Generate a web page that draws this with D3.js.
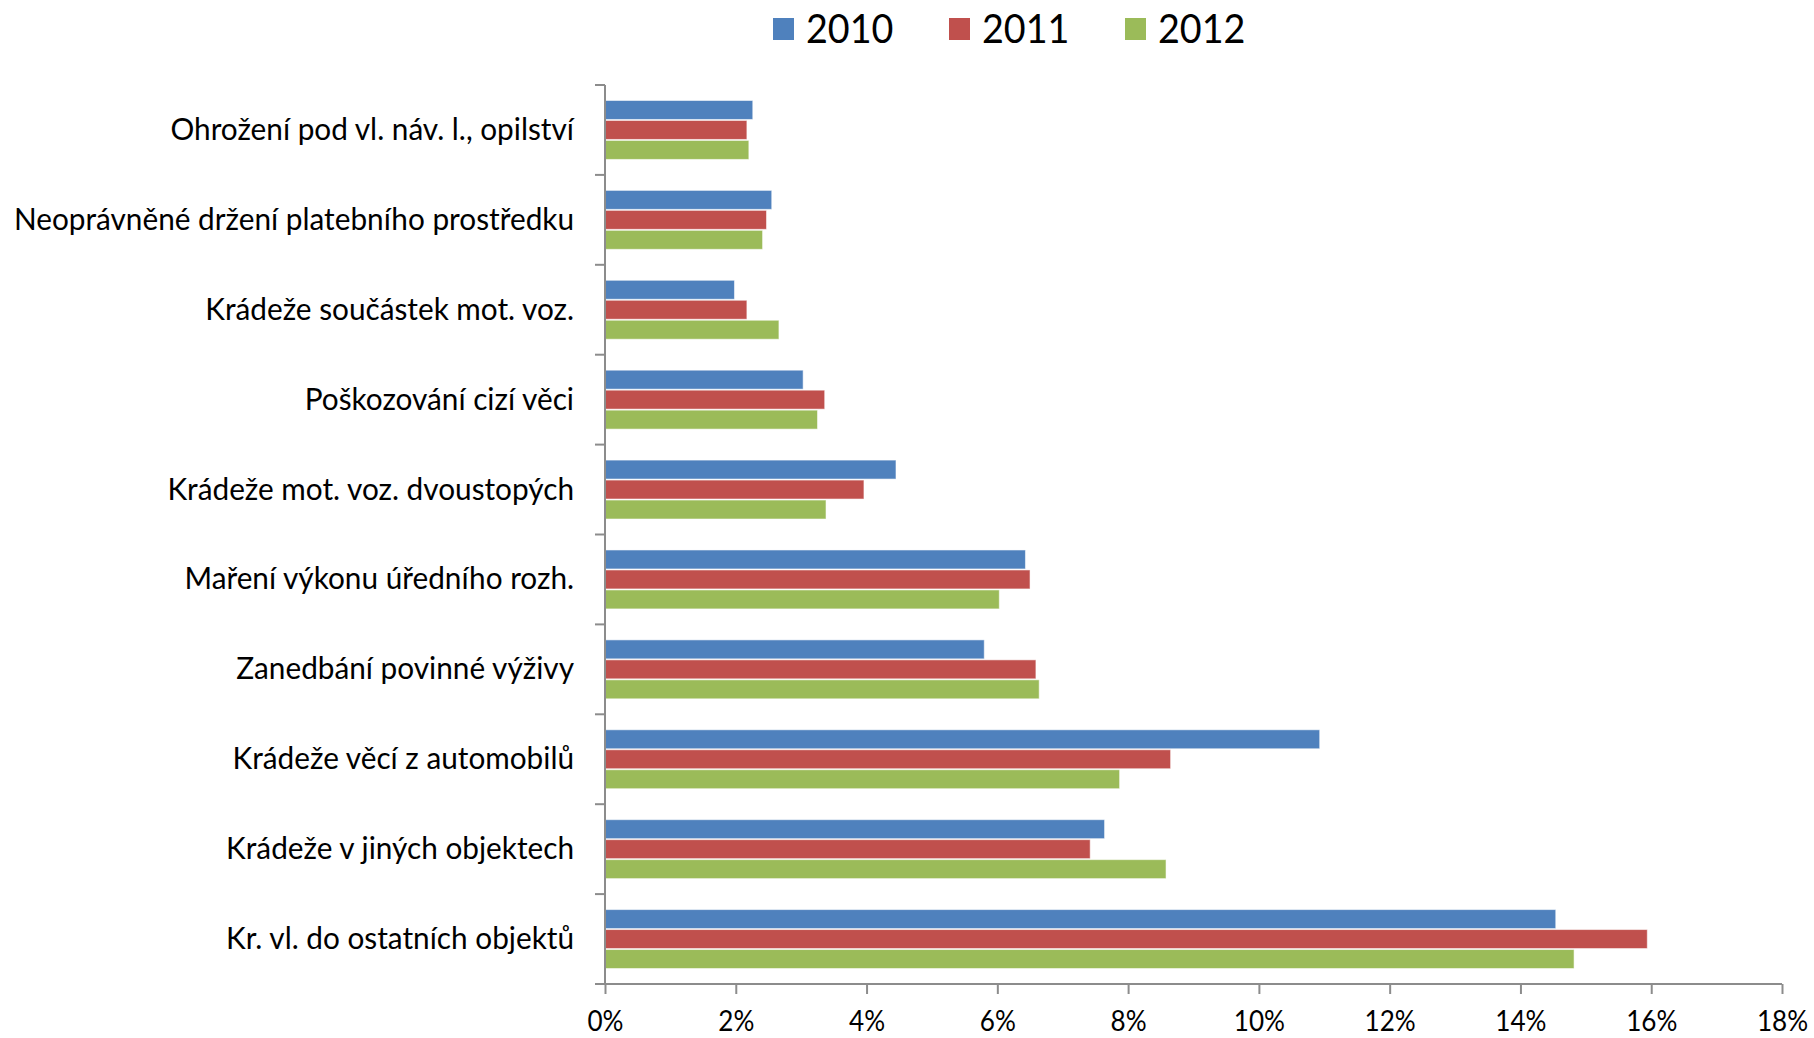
<!DOCTYPE html>
<html>
<head>
<meta charset="utf-8">
<script src="https://cdn.jsdelivr.net/npm/d3@7"></script>
<style>
  body { margin: 0; background: #fff; }
  text { font-family: Lato, "Open Sans", sans-serif; fill: #000; }
</style>
</head>
<body>
<div id="chart"></div>
<script>
// Kategorie (shora dolů) a hodnoty v procentech
const categories = [
    "Ohrožení pod vl. náv. l., opilství",
    "Neoprávněné držení platebního prostředku",
    "Krádeže součástek mot. voz.",
    "Poškozování cizí věci",
    "Krádeže mot. voz. dvoustopých",
    "Maření výkonu úředního rozh.",
    "Zanedbání povinné výživy",
    "Krádeže věcí z automobilů",
    "Krádeže v jiných objektech",
    "Kr. vl. do ostatních objektů"
]
const years = ["2010", "2011", "2012"]
const values2010 = [2.26, 2.55, 1.98, 3.03, 4.45, 6.43, 5.80, 10.93, 7.64, 14.54]
const values2011 = [2.17, 2.47, 2.17, 3.36, 3.96, 6.50, 6.59, 8.65, 7.42, 15.94]
const values2012 = [2.20, 2.41, 2.66, 3.25, 3.38, 6.03, 6.64, 7.87, 8.58, 14.82]
const xTicks = [0, 2, 4, 6, 8, 10, 12, 14, 16, 18]
const colors = ["#4F81BD", "#C0504D", "#9BBB59"]

const series = [values2010, values2011, values2012]

const width = 1814
const height = 1038
const margin = { top: 85, bottom: 54, left: 605, right: 32 }
const textScale = 0.96  // písmo je v předloze mírně zúžené

const svg = d3.select("div#chart").append("svg")
    .attr("width", width)
    .attr("height", height)

// Škály
const scaleX = d3.scaleLinear().domain([0, 18]).range([margin.left, width - margin.right])
const scaleY = d3.scaleBand().domain(categories).range([margin.top, height - margin.bottom])
const scaleInner = d3.scaleBand().domain(years).range([0, scaleY.bandwidth()])
    .paddingInner(0).paddingOuter(0.75)

// Sloupce
const groups = svg.append("g").attr("id", "bars")
    .selectAll("g").data(categories).join("g")
    .attr("transform", c => `translate(0 ${scaleY(c)})`)

groups.selectAll("rect")
    .data((c, i) => years.map((y, j) => ({ year: y, value: series[j][i], color: colors[j] })))
    .join("rect")
    .attr("x", scaleX(0))
    .attr("y", d => scaleInner(d.year) + 0.5)
    .attr("width", d => scaleX(d.value) - scaleX(0))
    .attr("height", scaleInner.bandwidth() - 1)
    .attr("fill", d => d.color)
    .attr("stroke", "rgba(255,255,255,0.55)")
    .attr("stroke-width", 1)

// Osa x
const xAxisGroup = svg.append("g").attr("id", "xAxisGroup")
    .attr("transform", `translate(0 ${height - margin.bottom})`)
const xAxis = d3.axisBottom(scaleX).tickValues(xTicks).tickSize(10).tickSizeOuter(0)
    .tickFormat(d => d + "%")
xAxisGroup.call(xAxis)
xAxisGroup.select(".domain").attr("stroke", "#8c8c8c").attr("stroke-width", 2)
    .attr("d", `M${scaleX(0) - 10},0H${scaleX(18)}`)
xAxisGroup.selectAll(".tick line").attr("stroke", "#8c8c8c").attr("stroke-width", 2)
xAxisGroup.selectAll(".tick text")
    .attr("y", null).attr("dy", null)
    .attr("font-size", 29)
    .attr("transform", `translate(0 47) scale(0.9 1)`)

// Osa y
const yAxisGroup = svg.append("g").attr("id", "yAxisGroup")
    .attr("transform", `translate(${margin.left} 0)`)
yAxisGroup.append("line")
    .attr("y1", margin.top).attr("y2", height - margin.bottom)
    .attr("stroke", "#8c8c8c").attr("stroke-width", 2)
yAxisGroup.selectAll("line.tk")
    .data(categories.map(c => scaleY(c)).concat([height - margin.bottom]))
    .join("line").attr("class", "tk")
    .attr("x1", -10).attr("x2", 0)
    .attr("y1", d => d).attr("y2", d => d)
    .attr("stroke", "#8c8c8c").attr("stroke-width", 2)
yAxisGroup.selectAll("text.cat")
    .data(categories).join("text").attr("class", "cat")
    .attr("text-anchor", "end")
    .attr("font-size", 31)
    .attr("transform", c => `translate(-31 ${scaleY(c) + scaleY.bandwidth() / 2 + 10}) scale(${textScale} 1)`)
    .text(c => c)

// Legenda
const legend = svg.append("g").attr("id", "legend")
    .selectAll("g").data(years).join("g")
    .attr("transform", (y, i) => `translate(${773 + i * 176} 0)`)
legend.append("rect")
    .attr("x", 0).attr("y", 18).attr("width", 21).attr("height", 22)
    .attr("fill", (y, i) => colors[i])
legend.append("text")
    .attr("font-size", 41)
    .attr("transform", `translate(33 43) scale(0.92 1)`)
    .text(y => y)
</script>
</body>
</html>
